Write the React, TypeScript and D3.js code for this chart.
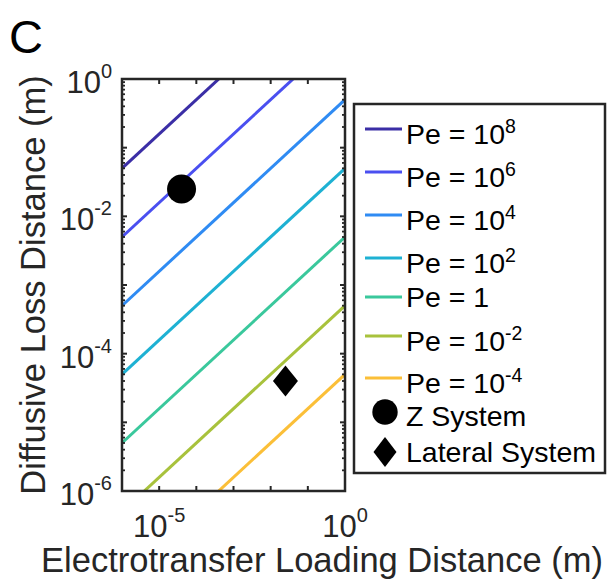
import React from "react";
import * as d3 from "d3";

// Péclet contour lines: exponent of Pe, colour, and the line's end values
// at the left (x = 1e-6 m) and right (x = 1 m) limits of the loading axis.
const peExponents = [8, 6, 4, 2, 0, -2, -4];
const peColors = ["#3b2ea6", "#4a4ff0", "#2f8bf3", "#1eb1d3", "#3ac89c", "#a8c23c", "#fbbf38"];
const lineStartY = [5e-2, 5e-3, 5e-4, 5e-5, 5e-6, 5e-7, 5e-8];
const lineEndY = [50, 5, 0.5, 5e-2, 5e-3, 5e-4, 5e-5];
const lineX = [1e-6, 1];

// Experimental systems [loading distance, diffusive loss distance]
const zSystem = [4e-5, 2.5e-2];
const lateralSystem = [2.5e-2, 4e-5];

// Axis ticks
const xDomain = [1e-6, 1];
const yDomain = [1e-6, 1];
const xTickExponents = [-6, -5, -4, -3, -2, -1, 0];
const xLabelExponents = [-5, 0];
const yTickExponents = [-6, -5, -4, -3, -2, -1, 0];
const yLabelExponents = [-6, -4, -2, 0];

const FONT = "'Liberation Sans', Arial, Helvetica, sans-serif";
const AXIS = "#262626";

function Pow10({ exp, x, y, size, supSize, anchor, rise }: any) {
  return (
    <text x={x} y={y} fontFamily={FONT} fontSize={size} fill={AXIS} textAnchor={anchor}>
      <tspan>10</tspan>
      <tspan dy={-rise} fontSize={supSize}>{String(exp)}</tspan>
    </text>
  );
}

export default function App() {
  const W = 608;
  const H = 579;
  const left = 122, right = 345, top = 79, bottom = 491;

  const x = d3.scaleLog().domain(xDomain).range([left, right]);
  const y = d3.scaleLog().domain(yDomain).range([bottom, top]);
  const line = d3
    .line<number[]>()
    .x((d) => x(d[0]))
    .y((d) => y(d[1]));

  // minor log ticks on the y axis
  const yMinor: number[] = [];
  yTickExponents.slice(0, -1).forEach((e) => {
    for (let m = 2; m <= 9; m++) yMinor.push(m * Math.pow(10, e));
  });

  // legend layout
  const lg = { x: 354, y: 104, w: 251, h: 369 };
  const rowY = [129, 172, 215, 258, 297, 336, 378, 412, 452];
  const sampleX0 = 365, sampleX1 = 402, textX = 406;
  const LFS = 28.5;

  const diamond = (cx: number, cy: number, hw: number, hh: number) =>
    `M${cx},${cy - hh}L${cx + hw},${cy}L${cx},${cy + hh}L${cx - hw},${cy}Z`;

  return (
    <svg
      width={W}
      height={H}
      style={{ position: "absolute", left: 0, top: 0, background: "#fff" }}
    >
      <defs>
        <clipPath id="plot-area">
          <rect x={left} y={top} width={right - left} height={bottom - top} />
        </clipPath>
      </defs>

      {/* panel letter */}
      <text x={9} y={53} fontFamily={FONT} fontSize={47} fill="#000">C</text>

      {/* Pe lines */}
      <g clipPath="url(#plot-area)">
        {peExponents.map((e, i) => (
          <path
            key={e}
            d={line([[lineX[0], lineStartY[i]], [lineX[1], lineEndY[i]]]) || ""}
            fill="none"
            stroke={peColors[i]}
            strokeWidth={3}
          />
        ))}
      </g>

      {/* system markers */}
      <circle cx={x(zSystem[0])} cy={y(zSystem[1])} r={14.5} fill="#000" />
      <path d={diamond(x(lateralSystem[0]), y(lateralSystem[1]), 12.5, 15.5)} fill="#000" />

      {/* x ticks, bottom and top */}
      {xTickExponents.map((e) => {
        const px = x(Math.pow(10, e));
        return (
          <g key={"xt" + e} stroke={AXIS} strokeWidth={2}>
            <line x1={px} x2={px} y1={bottom} y2={bottom - 5} />
            <line x1={px} x2={px} y1={top} y2={top + 5} />
          </g>
        );
      })}
      {/* y ticks, left and right */}
      {yTickExponents.map((e) => {
        const py = y(Math.pow(10, e));
        return (
          <g key={"yt" + e} stroke={AXIS} strokeWidth={2}>
            <line x1={left} x2={left + 5} y1={py} y2={py} />
            <line x1={right} x2={right - 5} y1={py} y2={py} />
          </g>
        );
      })}
      {yMinor.map((v, i) => {
        const py = y(v);
        return (
          <g key={"ym" + i} stroke={AXIS} strokeWidth={1.8}>
            <line x1={left} x2={left + 3} y1={py} y2={py} />
            <line x1={right} x2={right - 3} y1={py} y2={py} />
          </g>
        );
      })}

      {/* axes box */}
      <rect
        x={left}
        y={top}
        width={right - left}
        height={bottom - top}
        fill="none"
        stroke={AXIS}
        strokeWidth={2.5}
      />

      {/* tick labels */}
      {yLabelExponents.map((e) => (
        <Pow10
          key={"yl" + e}
          exp={e}
          x={112}
          y={y(Math.pow(10, e)) + 14}
          size={31}
          supSize={20}
          rise={15}
          anchor="end"
        />
      ))}
      {xLabelExponents.map((e) => (
        <Pow10
          key={"xl" + e}
          exp={e}
          x={x(Math.pow(10, e))}
          y={537}
          size={31}
          supSize={20}
          rise={15}
          anchor="middle"
        />
      ))}

      {/* axis titles */}
      <text x={322} y={572} fontFamily={FONT} fontSize={34.5} fill={AXIS} textAnchor="middle">
        Electrotransfer Loading Distance (m)
      </text>
      <text
        transform={`translate(45, ${(top + bottom) / 2}) rotate(-90)`}
        fontFamily={FONT}
        fontSize={34.5}
        fill={AXIS}
        textAnchor="middle"
      >
        Diffusive Loss Distance (m)
      </text>

      {/* legend */}
      <rect x={lg.x} y={lg.y} width={lg.w} height={lg.h} fill="#fff" stroke={AXIS} strokeWidth={2.5} />
      {peExponents.map((e, i) => {
        const cy = rowY[i];
        return (
          <g key={"lg" + e}>
            <line x1={sampleX0} x2={sampleX1} y1={cy} y2={cy} stroke={peColors[i]} strokeWidth={3} />
            {e === 0 ? (
              <text x={textX} y={cy + 10} fontFamily={FONT} fontSize={LFS} fill="#000">
                Pe = 1
              </text>
            ) : (
              <text x={textX} y={cy + 15} fontFamily={FONT} fontSize={LFS} fill="#000">
                <tspan>Pe = 10</tspan>
                <tspan dy={-11} fontSize={19.5}>{String(e)}</tspan>
              </text>
            )}
          </g>
        );
      })}
      <circle cx={385} cy={rowY[7]} r={12.7} fill="#000" />
      <text x={textX} y={rowY[7] + 14} fontFamily={FONT} fontSize={LFS} fill="#000">
        Z System
      </text>
      <path d={diamond(385, rowY[8], 11.5, 15)} fill="#000" />
      <text x={textX} y={rowY[8] + 10} fontFamily={FONT} fontSize={LFS} fill="#000">
        Lateral System
      </text>
    </svg>
  );
}
